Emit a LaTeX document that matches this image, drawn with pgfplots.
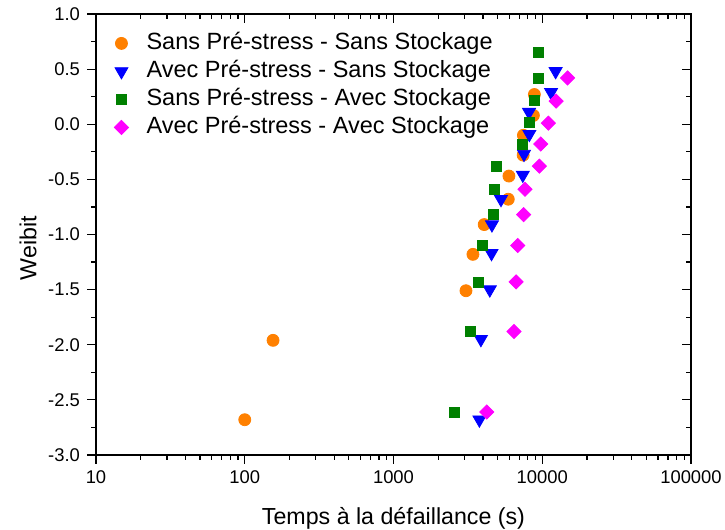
\documentclass[border=0pt]{standalone}
\usepackage{pgfplots}
\pgfplotsset{compat=1.18}
\usepackage{fontspec}
\setmainfont{Liberation Sans}

\definecolor{cOrange}{RGB}{255,128,0}
\definecolor{cGreen}{RGB}{0,128,0}
\definecolor{cBlue}{RGB}{0,0,255}
\definecolor{cMagenta}{RGB}{255,0,255}

\begin{document}
\begin{tikzpicture}
\begin{axis}[
  scale only axis, width=297.5pt, height=220.5pt,
  at={(0,0)}, anchor=south west,
  xmode=log, xmin=10, xmax=100000, ymin=-3, ymax=1,
  xtick={10,100,1000,10000,100000},
  minor xtick={20,30,40,50,60,70,80,90,200,300,400,500,600,700,800,900,
    2000,3000,4000,5000,6000,7000,8000,9000,20000,30000,40000,50000,60000,70000,80000,90000},
  ytick={-3,-2.5,...,1},
  minor ytick={-2.75,-2.25,...,0.75},
  axis line style={line width=0.6pt},
  tick style={black, line width=0.6pt},
  major tick length=4.5pt, minor tick length=2.5pt,
  tick align=outside, xtick pos=left, ytick pos=left,
  xticklabels={10,100,1000,10000,100000},
  /pgf/number format/assume math mode=true,
  yticklabel style={/pgf/number format/.cd, fixed, fixed zerofill, precision=1},
  ticklabel style={font=\fontsize{9.2}{11}\selectfont},
  xlabel={Temps à la défaillance (s)},
  ylabel={Weibit},
  label style={font=\fontsize{11.6}{13}\selectfont},
  xlabel style={at={(axis description cs:0.5,-0.118)}, anchor=north, inner sep=0pt},
  ylabel style={at={(axis description cs:-0.099,0.469)}, anchor=south, inner sep=0pt},
  legend cell align=left,
  legend style={draw=none, fill=none, at={(rel axis cs:0.0,1.0)}, anchor=north west,
    xshift=6pt, yshift=-7pt,
    font=\fontsize{11.75}{13}\selectfont, row sep=3pt, column sep=9pt,
    nodes={inner sep=0pt, text height=8.5pt, text depth=2.5pt}},
]
\addplot[only marks, mark=*, mark size=3pt, color=cOrange] coordinates {
  (100,-2.68) (155,-1.96) (3070,-1.51) (3420,-1.18) (4070,-0.91) (5910,-0.68)
  (5970,-0.47) (7440,-0.28) (7470,-0.10) (8720,0.08) (8850,0.27)
};
\addlegendentry{Sans Pré-stress - Sans Stockage}
\addplot[only marks, mark=triangle*, mark size=3.75pt, mark options={rotate=180}, color=cBlue] coordinates {
  (3780,-2.68) (3870,-1.95) (4440,-1.50) (4560,-1.17) (4590,-0.91) (5280,-0.68)
  (7400,-0.46) (7540,-0.27) (8190,-0.09) (8150,0.11) (11460,0.29) (12300,0.48)
};
\addlegendentry{Avec Pré-stress - Sans Stockage}
\addplot[only marks, mark=square*, mark size=2.5pt, color=cGreen] coordinates {
  (2560,-2.61) (3280,-1.88) (3740,-1.43) (3980,-1.10) (4680,-0.82) (4740,-0.59)
  (4910,-0.38) (7400,-0.18) (8240,0.02) (8810,0.22) (9400,0.42) (9400,0.65)
};
\addlegendentry{Sans Pré-stress - Avec Stockage}
\addplot[only marks, mark=square*, mark size=2.5pt, mark options={rotate=45}, color=cMagenta] coordinates {
  (4240,-2.61) (6460,-1.88) (6670,-1.43) (6840,-1.10) (7500,-0.82) (7650,-0.59)
  (9560,-0.38) (9770,-0.18) (10990,0.01) (12400,0.21) (14800,0.42)
};
\addlegendentry{Avec Pré-stress - Avec Stockage}
\end{axis}
% mirrored ticks on top and right, pointing inwards
\begin{axis}[
  scale only axis, width=297.5pt, height=220.5pt,
  at={(0,0)}, anchor=south west,
  xmode=log, xmin=10, xmax=100000, ymin=-3, ymax=1,
  xtick={10,100,1000,10000,100000},
  minor xtick={20,30,40,50,60,70,80,90,200,300,400,500,600,700,800,900,
    2000,3000,4000,5000,6000,7000,8000,9000,20000,30000,40000,50000,60000,70000,80000,90000},
  ytick={-3,-2.5,...,1},
  minor ytick={-2.75,-2.25,...,0.75},
  axis line style={line width=0.6pt},
  tick style={black, line width=0.6pt},
  major tick length=4.5pt, minor tick length=2.5pt,
  tick align=inside, xtick pos=right, ytick pos=right,
  xticklabels={}, yticklabels={}]
\end{axis}
\pgfresetboundingbox
\useasboundingbox (-48pt,-37.5pt) rectangle (314.5pt,227.5pt);
\end{tikzpicture}
\end{document}
